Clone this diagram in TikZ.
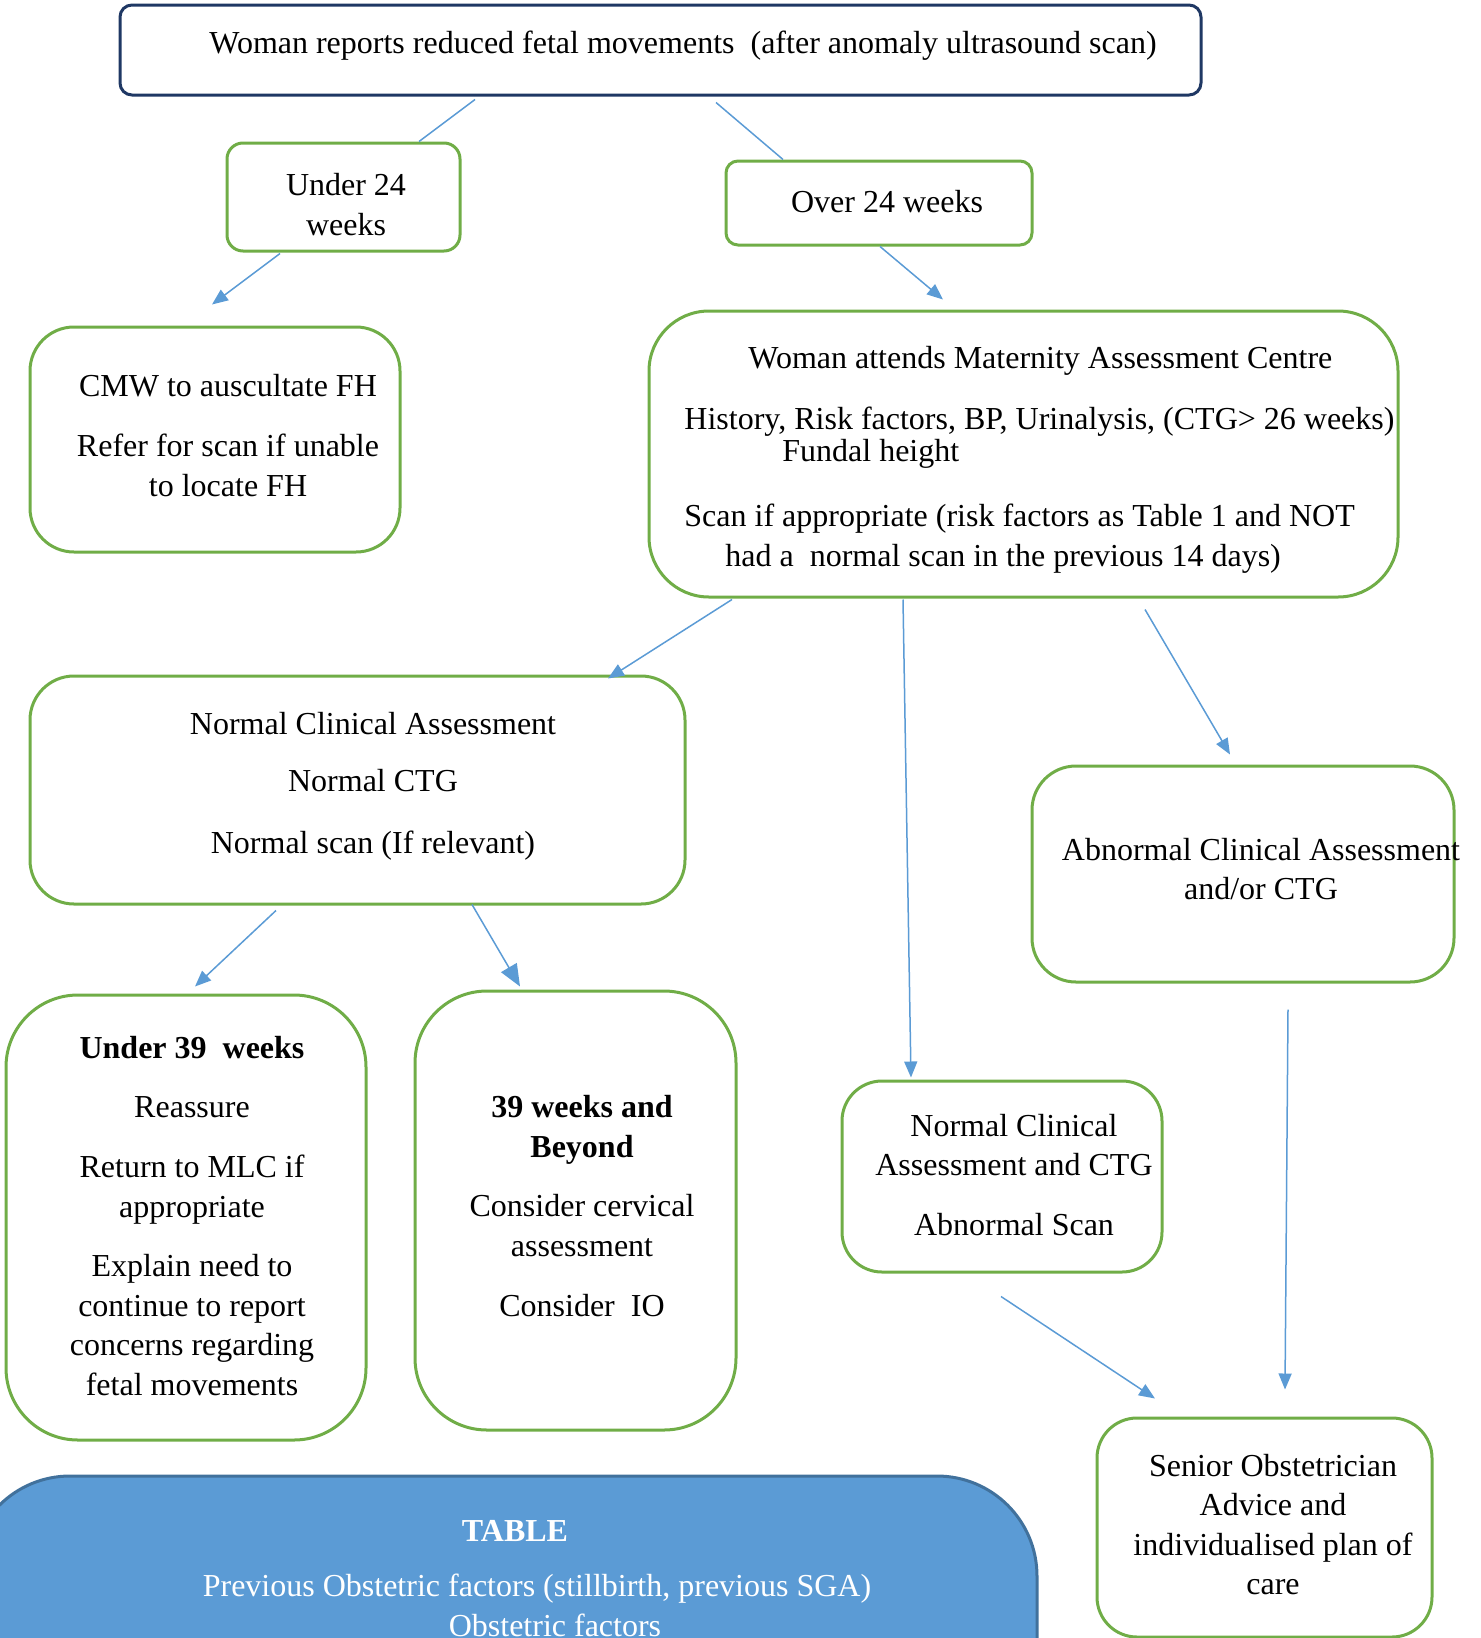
\documentclass[tikz,border=0pt]{standalone}
\usepackage{fontspec}
\setmainfont{Liberation Serif}
\usetikzlibrary{arrows.meta}
\definecolor{boxgreen}{HTML}{70AD47}
\definecolor{arrowblue}{HTML}{5B9BD5}
\definecolor{navyedge}{HTML}{1F3864}
\definecolor{tablefill}{HTML}{5B9BD5}
\definecolor{tableedge}{HTML}{41719C}

\begin{document}
\begin{tikzpicture}[x=0.5pt,y=-0.5pt,
  box/.style={draw=boxgreen,line width=1.5pt,rectangle,inner sep=0pt},
  txt/.style={align=center,inner sep=0pt,font=\fontsize{16pt}{19.8pt}\selectfont},
  link/.style={draw=arrowblue,line width=0.75pt},
  arr/.style={link,-{Triangle[length=8pt,width=6.5pt]}}]
% 画布
\useasboundingbox (0,0) rectangle (1481,1638);
\clip (0,0) rectangle (1481,1638);

% 顶部
\node[box,draw=navyedge,rounded corners=6pt,minimum width=540.5pt,minimum height=45pt] (report) at (660.5,50) {};
\node[txt] (reportT) at (683,46) {Woman reports reduced fetal movements\ \ (after anomaly ultrasound scan)};

% 孕周
\node[box,rounded corners=8pt,minimum width=116.5pt,minimum height=54pt] (under24) at (343.5,197) {};
\node[txt] (under24T) at (346,204.5) {Under 24\\weeks};
\node[box,rounded corners=6pt,minimum width=153pt,minimum height=42pt] (over24) at (879,203) {};
\node[txt] (over24T) at (887,202) {Over 24 weeks};

% 社区助产士
\node[box,rounded corners=22pt,minimum width=185pt,minimum height=112.5pt] (cmw) at (215,439.5) {};
\node[txt] (cmwT) at (228,435.5) {CMW to auscultate FH\\[10.5pt]Refer for scan if unable\\to locate FH};

% 评估中心
\node[box,rounded corners=30pt,minimum width=374.5pt,minimum height=143pt] (mac) at (1023.5,454) {};
\node[txt,align=left,anchor=west] (macT) at (684,460) {\hspace*{32pt}Woman attends Maternity Assessment Centre\\[10.7pt]
  History, Risk factors, BP, Urinalysis, (CTG> 26 weeks)\\[-3.8pt]
  \hspace*{49pt}Fundal height\\[12.7pt]
  Scan if appropriate (risk factors as Table 1 and NOT\\
  \hspace*{20.5pt}had a\ \ normal scan in the previous 14 days)};

% 正常
\node[box,rounded corners=22pt,minimum width=327.5pt,minimum height=114pt] (normal) at (357.5,790) {};
\node[txt] (normalT) at (373,786) {Normal Clinical Assessment\\[9pt]Normal CTG\\[11pt]Normal scan (If relevant)};

% 异常
\node[box,rounded corners=22pt,minimum width=211pt,minimum height=108pt] (abnormal) at (1243,874) {};
\node[txt] (abnormalT) at (1261,869) {Abnormal Clinical Assessment\\and/or CTG};

% 39周以下
\node[box,rounded corners=36pt,minimum width=180pt,minimum height=222.5pt] (under39) at (186,1217.5) {};
\node[txt] (under39T) at (192,1216) {\textbf{Under 39\ \ weeks}\\[10pt]Reassure\\[10pt]Return to MLC if\\appropriate\\[10pt]Explain need to\\continue to report\\concerns regarding\\fetal movements};

% 39周及以上
\node[box,rounded corners=36pt,minimum width=160.5pt,minimum height=219.5pt] (beyond39) at (575.5,1210.5) {};
\node[txt] (beyond39T) at (582,1206) {\textbf{39 weeks and}\\\textbf{Beyond}\\[10pt]Consider cervical\\assessment\\[10pt]Consider\ \ IO};

% 扫描异常
\node[box,rounded corners=20pt,minimum width=160pt,minimum height=95.5pt] (scan) at (1002,1176.5) {};
\node[txt] (scanT) at (1014,1175) {Normal Clinical\\Assessment and CTG\\[10pt]Abnormal Scan};

% 上级医生
\node[box,rounded corners=20pt,minimum width=167.5pt,minimum height=109.5pt] (senior) at (1264.5,1527.5) {};
\node[txt] (seniorT) at (1273,1524.5) {Senior Obstetrician\\Advice and\\individualised plan of\\care};

% 表格
\node[box,draw=tableedge,fill=tablefill,rounded corners=50pt,minimum width=533.5pt,minimum height=142pt] (table) at (503.5,1618) {};
\node[txt,text=white] (tableT) at (537,1578.5) {\textbf{TABLE}\hspace*{22pt}\\[8pt]Previous Obstetric factors (stillbirth, previous SGA)\\\hspace*{18pt}Obstetric factors};

% 连线
\draw[link] ([xshift=-92.75pt,yshift=-1.5pt]report.south) -- ([xshift=37.75pt]under24.north);
\draw[link] ([xshift=27.75pt,yshift=-3pt]report.south) -- ([xshift=-48pt]over24.north);
\draw[arr] ([xshift=-31.75pt,yshift=-0.5pt]under24.south) -- ([xshift=-1.5pt,yshift=10.5pt]cmw.north);
\draw[arr] ([xshift=0.5pt]over24.south) -- ([xshift=-40.25pt,yshift=5pt]mac.north);
\draw[arr] ([xshift=-145.75pt,yshift=-0.5pt]mac.south) -- ([xshift=125.25pt,yshift=-2pt]normal.north);
\draw[arr] ([xshift=-60.25pt,yshift=-0.5pt]mac.south) -- ([xshift=-45.5pt,yshift=1pt]scan.north);
\draw[arr] ([xshift=60.75pt,yshift=-5.5pt]mac.south) -- ([xshift=-6.5pt,yshift=5pt]abnormal.north);
\draw[arr] ([xshift=-40.75pt,yshift=-2.5pt]normal.south) -- ([xshift=4.5pt,yshift=3.5pt]under39.north);
\draw[link,-{Triangle[length=11pt,width=9pt]}] ([xshift=57.25pt,yshift=0.5pt]normal.south) -- ([xshift=-27.75pt,yshift=1.5pt]beyond39.north);
\draw[arr] ([xshift=-0.5pt,yshift=-11.5pt]scan.south) -- ([xshift=-54.75pt,yshift=9pt]senior.north);
\draw[arr] ([xshift=22.5pt,yshift=-13pt]abnormal.south) -- ([xshift=10.25pt,yshift=13.5pt]senior.north);
\end{tikzpicture}
\end{document}
